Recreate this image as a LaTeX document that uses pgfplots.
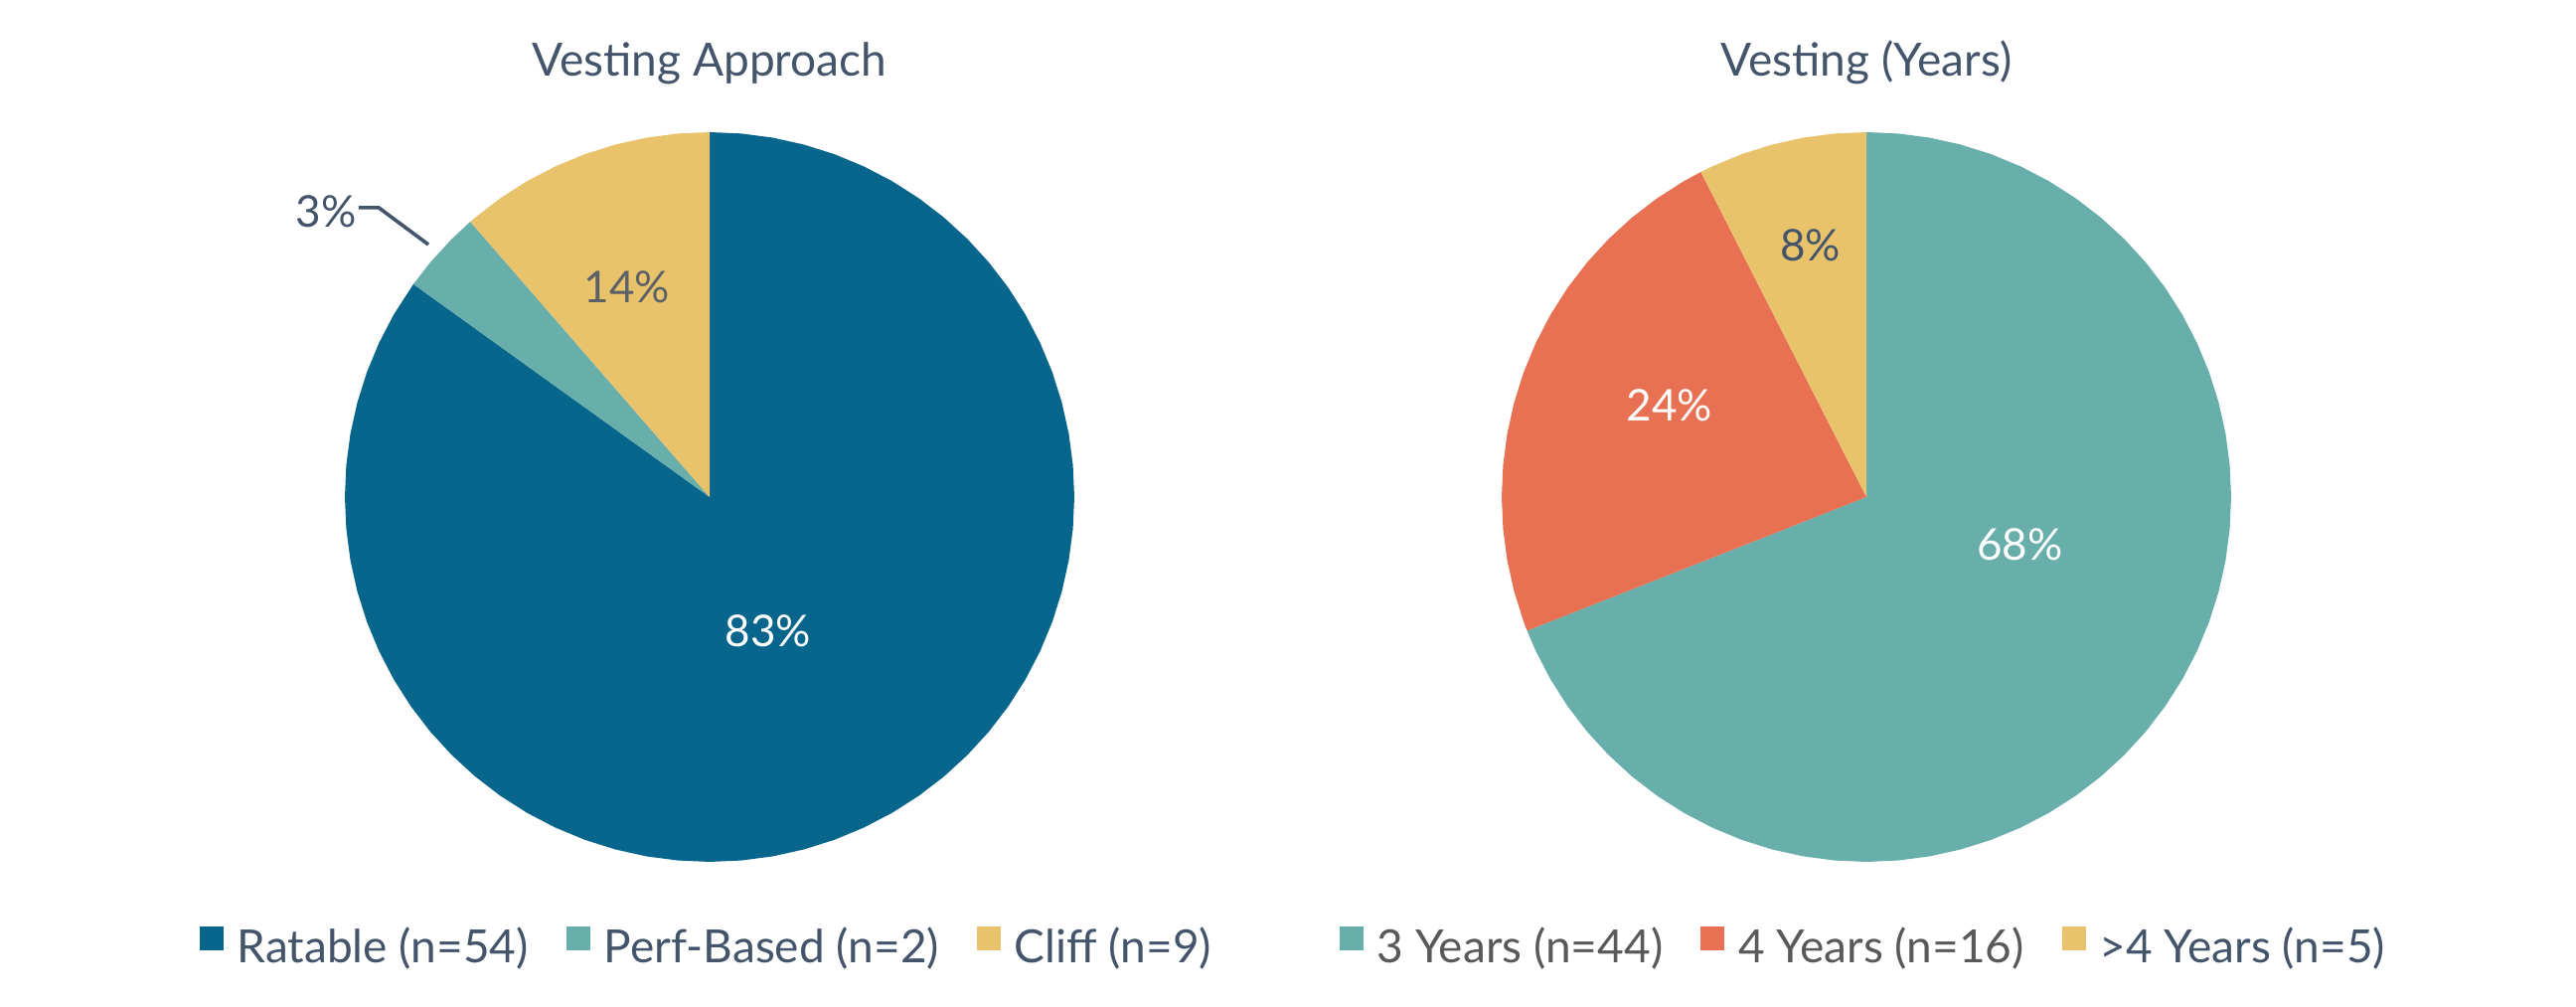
\documentclass[border=0pt]{standalone}
\usepackage{pgfplots}
\pgfplotsset{compat=1.18}
\usepackage{fontspec}
\setmainfont{Lato}
\definecolor{cBlue}{HTML}{08668C}
\definecolor{cTeal}{HTML}{68AFAB}
\definecolor{cYel}{HTML}{E8C36B}
\definecolor{cOra}{HTML}{E87053}
\definecolor{cText}{HTML}{44546A}
\definecolor{cGray}{HTML}{595959}
\definecolor{cLab}{HTML}{5C6168}
\pgfplotsset{
  pie/.style={
    scale only axis, width=183.5pt, height=183.5pt,
    xmin=-1, xmax=1, ymin=-1, ymax=1,
    hide axis, clip=false, anchor=center,
    title style={font=\fontsize{11.5}{14}\selectfont, text=cText, at={(0.5,1)}, anchor=base, yshift=8pt},
    legend columns=3,
    legend style={at={(0.5,-0.1184)}, anchor=center, draw=none, fill=none,
      font=\fontsize{11.5}{14}\selectfont, text=cText,
      /tikz/every even column/.append style={column sep=7.5pt}},
    legend image code/.code={\fill[##1] (0pt,-0.5pt) rectangle (6pt,5.5pt); \path (6pt,0pt) -- (7.5pt,0pt);},
  },
  wedge/.style={fill=#1, draw=none, data cs=polar},
}
\begin{document}
\begin{tikzpicture}
\path[use as bounding box] (0,0) rectangle (648pt,253.25pt);
% ---------------- Vesting Approach ----------------
\begin{axis}[pie, at={(178.5pt,128.25pt)}, title={Vesting Approach}]
% Ratable (n=54) : about 84.9% of the circle as drawn
\addplot[wedge=cBlue] coordinates {(0,0) (144.3,1) (150,1) (155,1) (160,1) (165,1) (170,1) (175,1) (180,1) (185,1) (190,1) (195,1) (200,1) (205,1) (210,1) (215,1) (220,1) (225,1) (230,1) (235,1) (240,1) (245,1) (250,1) (255,1) (260,1) (265,1) (270,1) (275,1) (280,1) (285,1) (290,1) (295,1) (300,1) (305,1) (310,1) (315,1) (320,1) (325,1) (330,1) (335,1) (340,1) (345,1) (350,1) (355,1) (360,1) (365,1) (370,1) (375,1) (380,1) (385,1) (390,1) (395,1) (400,1) (405,1) (410,1) (415,1) (420,1) (425,1) (430,1) (435,1) (440,1) (445,1) (450,1)};
\addlegendentry{Ratable (n=54)}
% Perf-Based (n=2) : about 3.7%
\addplot[wedge=cTeal] coordinates {(0,0) (131,1) (135,1) (140,1) (144.3,1)};
\addlegendentry{Perf-Based (n=2)}
% Cliff (n=9) : about 11.4%
\addplot[wedge=cYel] coordinates {(0,0) (90,1) (95,1) (100,1) (105,1) (110,1) (115,1) (120,1) (125,1) (130,1) (131,1)};
\addlegendentry{Cliff (n=9)}
% leader line of the 3% label
\addplot[forget plot, draw=cText, line width=0.9pt] coordinates {(-0.962,0.793) (-0.907,0.793) (-0.771,0.692)};
\node[font=\fontsize{11}{13}\selectfont, text=white] at (axis cs:0.161,-0.368) {83\%};
\node[font=\fontsize{11}{13}\selectfont, text=cLab] at (axis cs:-0.226,0.575) {14\%};
\node[font=\fontsize{11}{13}\selectfont, text=cText] at (axis cs:-1.052,0.782) {3\%};
\end{axis}
% ---------------- Vesting (Years) ----------------
\begin{axis}[pie, at={(469.5pt,128.25pt)}, title={Vesting (Years)}]
% 3 Years (n=44)
\addplot[wedge=cTeal] coordinates {(0,0) (201.5,1) (205,1) (210,1) (215,1) (220,1) (225,1) (230,1) (235,1) (240,1) (245,1) (250,1) (255,1) (260,1) (265,1) (270,1) (275,1) (280,1) (285,1) (290,1) (295,1) (300,1) (305,1) (310,1) (315,1) (320,1) (325,1) (330,1) (335,1) (340,1) (345,1) (350,1) (355,1) (360,1) (365,1) (370,1) (375,1) (380,1) (385,1) (390,1) (395,1) (400,1) (405,1) (410,1) (415,1) (420,1) (425,1) (430,1) (435,1) (440,1) (445,1) (450,1)};
\addlegendentry{\textcolor{cGray}{3 Years (n=44)}}
% 4 Years (n=16)
\addplot[wedge=cOra] coordinates {(0,0) (117,1) (120,1) (125,1) (130,1) (135,1) (140,1) (145,1) (150,1) (155,1) (160,1) (165,1) (170,1) (175,1) (180,1) (185,1) (190,1) (195,1) (200,1) (201.5,1)};
\addlegendentry{\textcolor{cGray}{4 Years (n=16)}}
% >4 Years (n=5)
\addplot[wedge=cYel] coordinates {(0,0) (90,1) (95,1) (100,1) (105,1) (110,1) (115,1) (117,1)};
\addlegendentry{>4 Years (n=5)}
\node[font=\fontsize{11}{13}\selectfont, text=white] at (axis cs:0.42,-0.131) {68\%};
\node[font=\fontsize{11}{13}\selectfont, text=white] at (axis cs:-0.540,0.251) {24\%};
\node[font=\fontsize{11}{13}\selectfont, text=cText] at (axis cs:-0.153,0.689) {8\%};
\end{axis}
\end{tikzpicture}
\end{document}
